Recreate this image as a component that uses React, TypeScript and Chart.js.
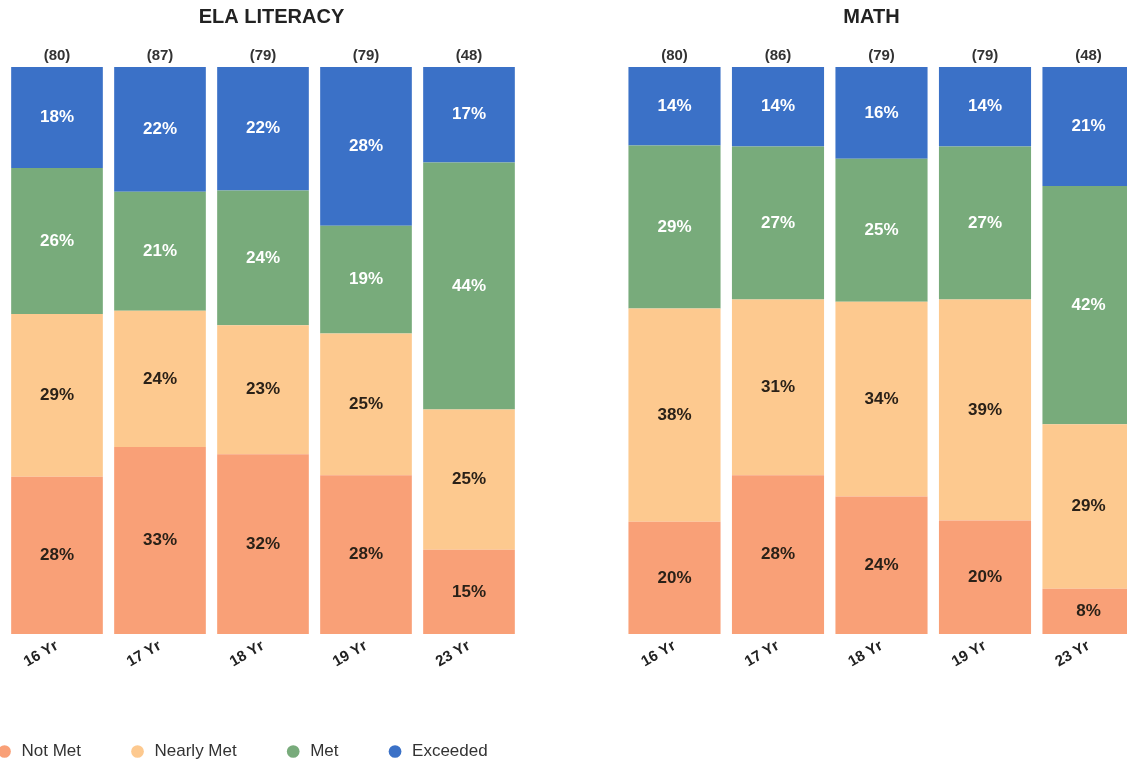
import { useEffect, useRef } from "react";
import { Chart, registerables } from "chart.js";

Chart.register(...registerables);
Chart.defaults.font.family = "'Liberation Sans', Arial, sans-serif";

const ageGroups = ["16 Yr", "17 Yr", "18 Yr", "19 Yr", "23 Yr"];
const levels = ["Not Met", "Nearly Met", "Met", "Exceeded"];
const levelColors = ["#F9A077", "#FDC98F", "#78AB7B", "#3B71C7"];
const valueLabelColors = ["#2a2118", "#2a2118", "#ffffff", "#ffffff"];

const elaCounts = [80, 87, 79, 79, 48];
const elaNotMet = [28, 33, 32, 28, 15];
const elaNearlyMet = [29, 24, 23, 25, 25];
const elaMet = [26, 21, 24, 19, 44];
const elaExceeded = [18, 22, 22, 28, 17];

const mathCounts = [80, 86, 79, 79, 48];
const mathNotMet = [20, 28, 24, 20, 8];
const mathNearlyMet = [38, 31, 34, 39, 29];
const mathMet = [29, 27, 25, 27, 42];
const mathExceeded = [14, 14, 16, 14, 21];

const segmentLabels = {
  id: "segmentLabels",
  afterDatasetsDraw(chart: any) {
    const { ctx } = chart;
    ctx.save();
    ctx.font = "bold 17px 'Liberation Sans', Arial, sans-serif";
    ctx.textAlign = "center";
    ctx.textBaseline = "middle";
    chart.data.datasets.forEach((ds: any, di: number) => {
      const meta = chart.getDatasetMeta(di);
      meta.data.forEach((el: any, i: number) => {
        const { x, y, base } = el.getProps(["x", "y", "base"], true);
        ctx.fillStyle = valueLabelColors[di];
        ctx.fillText(`${ds.rawValues[i]}%`, x, (y + base) / 2);
      });
    });
    ctx.restore();
  },
};

function buildConfig(
  title: string,
  counts: number[],
  series: number[][],
  showLegend: boolean,
  leftW: number,
  rightW: number,
  xHeight: number
): any {
  const totals = ageGroups.map((_, i) => series.reduce((s, arr) => s + arr[i], 0));
  const hidden = {
    display: true,
    ticks: { display: false },
    grid: { display: false, drawTicks: false },
    border: { display: false },
  };
  return {
    type: "bar",
    data: {
      labels: ageGroups,
      datasets: series.map((vals, k) => ({
        label: levels[k],
        data: vals.map((v, i) => (v / totals[i]) * 100),
        rawValues: vals,
        backgroundColor: levelColors[k],
        borderWidth: 0,
        categoryPercentage: 1,
        barPercentage: 0.89,
        xAxisID: "x",
        yAxisID: "y",
      })),
    },
    options: {
      responsive: false,
      animation: false,
      layout: { padding: 0 },
      plugins: {
        title: {
          display: true,
          text: title,
          color: "#222",
          font: { size: 20, weight: "bold" },
          padding: { top: 5.5, bottom: 15.5 },
        },
        legend: {
          display: showLegend,
          position: "bottom",
          align: "start",
          labels: {
            usePointStyle: true,
            pointStyle: "circle",
            boxWidth: 17,
            boxHeight: 9,
            padding: 48,
            color: "#333",
            font: { size: 17 },
          },
        },
        tooltip: { enabled: false },
      },
      scales: {
        x: {
          stacked: true,
          grid: { display: false, drawTicks: false },
          border: { display: false },
          ticks: {
            color: "#222",
            font: { size: 15, weight: "bold" },
            minRotation: 30,
            maxRotation: 30,
            padding: 3,
          },
          afterFit: (s: any) => {
            s.height = xHeight;
          },
        },
        x2: {
          type: "category",
          labels: counts.map((c) => `(${c})`),
          position: "top",
          offset: true,
          grid: { display: false, drawTicks: false },
          border: { display: false },
          ticks: { color: "#333", font: { size: 15, weight: "bold" }, padding: 2, maxRotation: 0 },
        },
        y: {
          ...hidden,
          stacked: true,
          min: 0,
          max: 100,
          position: "left",
          afterFit: (s: any) => {
            s.width = leftW;
          },
        },
        y2: {
          ...hidden,
          type: "linear",
          position: "right",
          afterFit: (s: any) => {
            s.width = rightW;
          },
        },
      },
    },
    plugins: [segmentLabels],
  };
}

export default function App() {
  const leftRef = useRef<HTMLCanvasElement>(null);
  const rightRef = useRef<HTMLCanvasElement>(null);

  useEffect(() => {
    const c1 = new Chart(
      leftRef.current as HTMLCanvasElement,
      buildConfig("ELA LITERACY", elaCounts, [elaNotMet, elaNearlyMet, elaMet, elaExceeded], true, 57.5, 74.5, 61)
    );
    const c2 = new Chart(
      rightRef.current as HTMLCanvasElement,
      buildConfig("MATH", mathCounts, [mathNotMet, mathNearlyMet, mathMet, mathExceeded], false, 62.75, 42.75, 61)
    );
    return () => {
      c1.destroy();
      c2.destroy();
    };
  }, []);

  return (
    <div
      style={{
        position: "absolute",
        left: 0,
        top: 0,
        width: 1127,
        height: 766,
        overflow: "hidden",
        background: "#fff",
      }}
    >
      <canvas ref={leftRef} width={647} height={770} style={{ position: "absolute", left: -52, top: 0 }} />
      <canvas ref={rightRef} width={623} height={695} style={{ position: "absolute", left: 560, top: 0 }} />
    </div>
  );
}
